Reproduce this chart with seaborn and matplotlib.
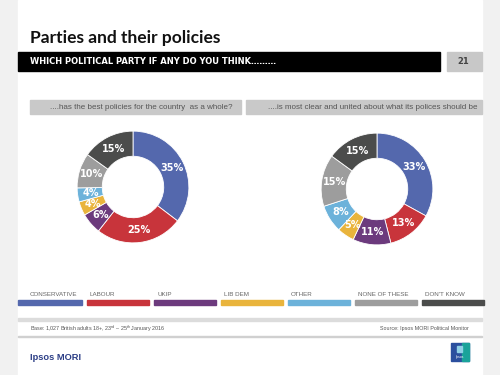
import matplotlib
matplotlib.use('Agg')
import matplotlib.pyplot as plt
import seaborn as sns
from matplotlib.patches import Rectangle

sns.set_theme(style='white')
plt.rcParams['font.family'] = ['Liberation Sans', 'DejaVu Sans']
plt.rcParams['mathtext.fontset'] = 'custom'
plt.rcParams['mathtext.rm'] = 'Liberation Sans'

# data
parties = ['CONSERVATIVE', 'LABOUR', 'UKIP', 'LIB DEM', 'OTHER', 'NONE OF THESE', "DON'T KNOW"]
best_policies = [35, 25, 6, 4, 4, 10, 15]
clear_united = [33, 13, 11, 5, 8, 15, 15]
party_colors = ['#5468ad', '#c8343b', '#6c3a7d', '#e9b43c', '#6cb2da', '#9d9d9d', '#4b4c4b']
questions = ['....has the best policies for the country  as a whole?',
             '....is most clear and united about what its polices should be']

palette = sns.color_palette(party_colors)

W, H = 500, 375
fig = plt.figure(figsize=(5, 3.75), dpi=100, facecolor='#f1f1f1')

# overlay in pixel coordinates for the slide furniture
bg = fig.add_axes([0, 0, 1, 1], zorder=0)
bg.set_xlim(0, W)
bg.set_ylim(H, 0)
bg.axis('off')

bg.add_patch(Rectangle((18, 0), 464, H, color='white'))
bg.text(30, 38, 'Parties and their policies', fontsize=12.5, fontweight='bold',
        family='Lato', color='#111111', va='center')
bg.add_patch(Rectangle((18, 52), 422, 19, color='black'))
bg.text(30, 61.5, 'WHICH POLITICAL PARTY IF ANY DO YOU THINK………', fontsize=6,
        fontweight='bold', family='DejaVu Sans', color='white', va='center')
bg.add_patch(Rectangle((447, 52), 35, 19, color='#c8c8c8'))
bg.text(469, 61.5, '21', fontsize=6, fontweight='bold', family='DejaVu Sans',
        color='#444444', va='center', ha='right')

# question boxes
boxes = [(30, 211, 8), (246, 236, 4)]
for (x0, w, pad), q in zip(boxes, questions):
    bg.add_patch(Rectangle((x0, 100), w, 14, color='#c9c9c9'))
    bg.text(x0 + w - pad, 107.5, q, fontsize=5.8, color='#555555', va='center', ha='right')

# donuts
centers = [(133, 187), (377, 189)]
R = 57
for (cx, cy), vals in zip(centers, [best_policies, clear_united]):
    ax = fig.add_axes([(cx - R) / W, 1 - (cy + R) / H, 2 * R / W, 2 * R / H], zorder=2)
    wedges, texts = ax.pie(vals, colors=palette, startangle=90, counterclock=False,
                           labels=[f'{v}%' for v in vals], labeldistance=0.77,
                           wedgeprops=dict(width=0.45, edgecolor='white', linewidth=0.6),
                           textprops=dict(color='white', fontsize=7, fontweight='bold',
                                          family='DejaVu Sans', ha='center', va='center'))
    for t in texts:
        t.set_ha('center')
        t.set_va('center')
    ax.set_xlim(-1.02, 1.02)
    ax.set_ylim(-1.02, 1.02)
    ax.axis('off')

# legend
for i, (name, col) in enumerate(zip(parties, palette)):
    x0 = 18 if i == 0 else 87 + (i - 1) * 67
    w = 64 if i == 0 else 62
    tx = 30 if i == 0 else x0 + 3
    bg.add_patch(Rectangle((x0, 300), w, 5, color=col))
    bg.text(tx, 294.5, name, fontsize=4.5, color='#666666', va='center')

# footer
bg.add_patch(Rectangle((18, 318), 464, 2.5, color='#dcdcdc'))
bg.add_patch(Rectangle((18, 336), 464, 0.8, color='#d0d0d0'))
bg.text(30, 328.5, r'Base: 1,027 British adults 18+, 23$^{\rm rd}$ – 25$^{\rm th}$ January 2016',
        fontsize=3.9, color='#555555', va='center')
bg.text(469, 328.5, 'Source: Ipsos MORI Political Monitor', fontsize=3.9, color='#555555',
        va='center', ha='right')
bg.text(30, 357, 'Ipsos MORI', fontsize=6.7, fontweight='bold', family='Liberation Sans',
        color='#2c3e86', va='center')
bg.add_patch(Rectangle((451, 343), 18, 18, color='#2b4f9e'))
bg.add_patch(Rectangle((462, 343), 7, 18, color='#1aa39a'))
bg.add_patch(Rectangle((457, 346), 5, 6, color='#8fd0e6'))
bg.text(460, 357, 'Ipsos', fontsize=2.5, color='white', va='center', ha='center')

fig.savefig('out.png', dpi=100, facecolor=fig.get_facecolor())
